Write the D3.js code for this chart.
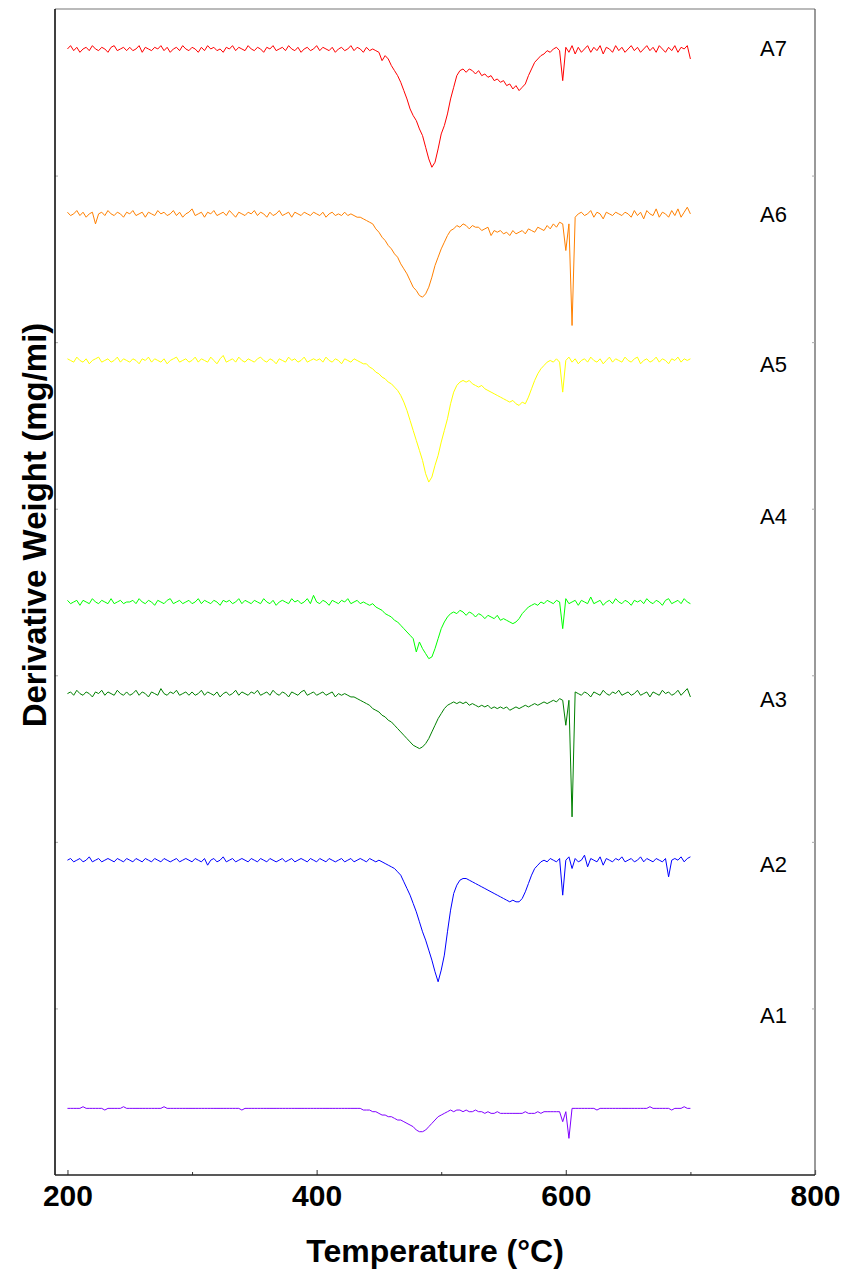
<!DOCTYPE html>
<html><head><meta charset="utf-8">
<script src="https://cdn.jsdelivr.net/npm/d3@7"></script>
<style>body{margin:0;background:#fff}svg{display:block}</style>
</head><body>
<svg id="chart" width="846" height="1270"></svg>
<script>
// ---- DATA ----
// Temperature grid (°C): 200 .. 700 every 2.5 °C (201 samples)
const tStart = 200, tStep = 2.5, tCount = 201;
const xTicksMajor = [200, 400, 600, 800];
const xTicksMinor = [300, 500, 700];
const yTicks = [100, 200, 300, 400, 500, 600];
const sampleNames = ["A7", "A6", "A5", "A4", "A3", "A2", "A1"];
const sampleColors = ["#ff0000", "#ff8000", "#ffff00", "#00ff00", "#008000", "#0000ff", "#8000ff"];
// vertical offset (baseline level) of each stacked DTG trace, in plot units
const sampleOffsets = [676, 577, 489, 344, 289, 189, 40];
// label levels (plot units)
const labelLevels = [672, 572, 482, 391, 281, 182, 91];

// Derivative weight, relative to each trace's baseline (plot units)
const A7 = [
0,2,-1,1,-2,0,1,-1,2,0,-1,1,0,-2,1,2,-1,0,1,-1,
1,-1,0,2,-2,1,0,-1,1,0,2,-1,1,-2,0,1,-1,2,0,-1,
1,0,-2,1,-1,2,0,1,-1,0,-2,1,0,2,-1,1,0,-1,2,0,
-1,1,0,-2,1,0,2,-1,0,1,-1,2,0,-1,1,-2,0,1,-1,0,
2,-1,1,0,-1,1,-2,0,1,-1,0,2,-1,1,0,-2,1,-1,0,-1,
-2,-7,-4,-6,-10,-13,-16,-20,-25,-30,-36,-40,-43,-48,-52,-59,-66,-71,-68,-60,
-51,-46,-39,-30,-23,-16,-13,-12,-14,-12,-13,-15,-13,-16,-15,-17,-16,-19,-18,-20,
-19,-22,-21,-24,-22,-25,-23,-21,-16,-12,-8,-6,-4,-3,-1,-2,0,1,-1,-19,
1,-2,2,-3,1,-2,0,2,-2,1,-1,2,-3,1,0,-2,2,-1,1,-2,
0,2,-1,1,-2,0,2,-1,1,-2,2,0,-2,1,-1,2,-2,1,0,2,
-6];
const A6 = [
1,-1,0,2,-1,1,-2,0,1,-6,0,1,-1,2,0,-1,1,0,-2,1,
0,2,-1,0,1,-2,1,0,-1,2,0,1,-1,0,2,-1,1,-2,0,1,
3,-1,0,1,-2,1,0,2,-1,0,1,-1,2,0,-2,1,0,-1,1,0,
2,-1,1,0,-2,1,-1,0,2,-1,0,1,-2,1,0,-1,1,0,-1,1,
0,-1,1,-2,0,1,-1,0,-1,1,-1,0,-1,-2,-2,-3,-4,-5,-6,-9,
-11,-14,-16,-19,-21,-24,-26,-30,-33,-36,-40,-44,-46,-49,-50,-48,-44,-38,-31,-26,
-21,-17,-13,-10,-9,-7,-8,-6,-7,-9,-7,-8,-8,-10,-9,-8,-13,-10,-11,-10,
-12,-11,-13,-10,-12,-11,-10,-12,-9,-10,-11,-8,-9,-10,-7,-9,-6,-8,-5,-6,
-22,-6,-67,-2,0,1,-1,0,2,-2,1,0,-3,1,0,-1,1,0,-1,1,
0,-2,2,-1,1,-3,2,0,-1,3,-2,1,0,-2,2,-1,3,-2,1,4,
0];
const A5 = [
1,0,-1,2,0,-1,1,-2,0,1,2,-1,0,1,-1,0,2,-1,1,0,
-1,1,0,-2,1,0,2,-1,1,0,-1,1,-2,0,1,2,-1,0,1,-1,
0,2,-1,1,0,-1,2,0,-2,1,3,-1,0,1,-1,2,0,-1,1,0,
-1,1,2,0,-1,1,0,-2,1,0,-1,2,0,1,-1,0,2,-1,0,1,
0,1,-1,2,0,-1,1,0,-2,1,0,-1,1,0,-1,-2,-2,-4,-5,-7,
-8,-10,-11,-13,-14,-16,-18,-21,-25,-30,-36,-42,-48,-54,-60,-68,-73,-70,-63,-57,
-49,-42,-35,-26,-19,-15,-13,-12,-13,-12,-14,-15,-16,-15,-17,-18,-19,-20,-21,-22,
-23,-24,-25,-24,-26,-27,-25,-26,-22,-17,-12,-8,-5,-3,-1,0,-1,1,-1,-19,
0,2,-1,1,-2,0,1,-1,2,0,-1,1,-2,0,2,-1,1,0,-1,2,
0,-1,1,2,-2,0,1,-1,0,2,-1,1,0,-2,1,0,2,-1,1,0,
1];
const A4 = [
1,-1,0,1,-2,1,0,-1,2,0,-1,1,0,-1,2,-1,0,1,-1,0,
0,1,-1,2,0,-1,1,0,-2,1,0,-1,1,2,-1,0,1,-1,0,1,
-1,0,2,-1,1,0,-1,1,0,-2,1,0,1,-1,0,2,-1,1,0,-1,
1,0,-1,2,0,-1,1,-2,0,1,0,-1,2,0,1,-1,0,2,-1,4,
0,-1,1,0,-2,1,0,-1,1,0,2,-1,0,1,-1,0,-1,-2,-1,-3,
-4,-5,-7,-8,-9,-11,-12,-14,-16,-18,-20,-22,-30,-24,-28,-31,-34,-33,-28,-22,
-16,-12,-9,-7,-6,-7,-5,-6,-8,-6,-7,-9,-7,-8,-10,-8,-9,-10,-8,-11,
-10,-11,-12,-13,-12,-10,-7,-5,-3,-2,-1,-2,0,-1,1,0,-1,1,0,-16,
2,-1,0,1,-2,1,0,-1,3,-1,0,1,-2,0,1,-1,2,0,-1,1,
0,-2,1,0,1,-1,2,0,-1,1,0,-2,1,2,-1,0,1,-1,2,0,
-1];
const A3 = [
0,1,-1,2,0,-1,1,0,-2,1,0,2,-1,1,0,-1,2,0,-1,1,
-1,0,2,-1,1,0,-2,1,0,-1,3,0,-1,1,0,2,-1,0,1,-1,
1,-1,0,2,-1,1,0,-1,1,-2,0,1,-1,0,2,-1,1,0,-1,1,
0,2,-1,0,1,-1,2,0,-1,1,0,-2,1,0,-1,1,2,-1,0,1,
-1,0,1,-1,0,1,-2,0,-1,0,-1,-2,-2,-3,-4,-5,-6,-7,-9,-10,
-11,-13,-14,-16,-17,-19,-21,-23,-25,-27,-29,-31,-32,-33,-32,-30,-27,-23,-19,-15,
-12,-9,-7,-6,-5,-6,-5,-6,-5,-7,-6,-7,-8,-7,-8,-7,-9,-8,-9,-8,
-9,-8,-10,-9,-8,-9,-8,-7,-8,-7,-6,-7,-6,-5,-6,-5,-4,-5,-3,-4,
-19,-4,-74,1,0,-1,1,0,-2,1,0,-1,2,0,-1,1,0,2,-1,0,
1,-1,0,2,-1,0,1,-2,1,0,-1,2,0,1,-1,0,2,-1,1,3,
-2];
const A2 = [
0,1,-1,0,1,-1,0,2,-1,0,1,-1,0,1,0,-1,1,0,-1,1,
0,-1,1,0,-1,1,0,-1,1,0,-1,1,0,-1,0,1,-1,0,1,0,
-1,1,0,-1,1,-3,0,1,-1,0,2,-1,0,1,-1,0,1,0,-1,1,
0,-1,1,0,-1,1,0,-1,0,1,-1,0,1,-1,0,1,0,-1,1,0,
-1,1,0,-1,1,0,-1,0,1,-1,0,1,-1,0,1,0,-1,1,0,-1,
0,-1,-2,-3,-4,-5,-7,-9,-13,-17,-21,-26,-31,-37,-43,-48,-54,-60,-67,-73,
-66,-57,-43,-30,-20,-15,-12,-11,-11,-12,-13,-14,-15,-16,-17,-18,-19,-20,-21,-22,
-23,-24,-25,-24,-25,-25,-23,-19,-14,-9,-5,-3,-1,0,-1,1,0,-1,1,-21,
0,2,-5,1,-1,0,3,-4,1,0,-1,2,-3,1,0,-1,1,0,2,-1,
0,1,-1,0,2,-1,1,0,-1,1,0,-1,1,-10,0,1,0,2,-1,1,
2];
const A1 = [
0,0,0,0,0,1,0,0,0,0,0,0,-1,0,0,0,0,0,1,0,
0,0,0,0,0,0,0,0,0,0,0,1,0,0,0,0,0,0,0,0,
0,0,0,0,0,0,0,0,0,0,0,0,0,0,0,0,-1,0,0,0,
0,0,0,0,0,0,0,0,0,0,0,0,0,0,0,0,0,0,0,0,
0,0,0,0,0,0,0,0,0,0,0,0,0,0,0,-1,-1,-1,-2,-2,
-3,-4,-4,-5,-5,-6,-7,-7,-8,-9,-10,-11,-13,-14,-14,-13,-11,-9,-7,-5,
-4,-3,-2,-1,-2,-1,-1,-2,-1,-2,-2,-1,-2,-2,-3,-2,-3,-3,-2,-3,
-3,-3,-3,-3,-3,-3,-3,-2,-3,-3,-3,-2,-3,-2,-2,-2,-2,-2,-2,-8,
-2,-18,0,0,0,0,0,0,0,0,-1,0,0,0,0,0,0,0,0,0,
0,0,0,0,0,0,0,1,0,0,0,0,0,0,-1,0,0,0,1,0,
0];
const sampleValues = [A7, A6, A5, A4, A3, A2, A1];

// ---- LAYOUT ----
const svg = d3.select("#chart");
const L = 55, R = 815, T = 9, B = 1175;
const x = d3.scaleLinear().domain([190, 800]).range([L, R]);
const y = d3.scaleLinear().domain([0, 700]).range([B, T]);
const temps = d3.range(tCount).map(i => tStart + i * tStep);

// traces
const line = d3.line().x(d => x(d[0])).y(d => y(d[1]));
sampleValues.forEach((vals, k) => {
  const pts = vals.map((v, i) => [temps[i], sampleOffsets[k] + v]);
  svg.append("path").datum(pts)
    .attr("fill", "none").attr("stroke", sampleColors[k])
    .attr("stroke-width", 1).attr("stroke-linejoin", "round")
    .attr("d", line);
});

// frame
svg.append("line").attr("x1", L).attr("x2", R).attr("y1", T).attr("y2", T).attr("stroke", "#777").attr("stroke-width", 1.2);
svg.append("line").attr("x1", R).attr("x2", R).attr("y1", T).attr("y2", B).attr("stroke", "#555").attr("stroke-width", 1.2);

// y ticks (inner, no labels)
const yl = svg.append("g").attr("transform", `translate(${L},0)`)
  .call(d3.axisLeft(y).tickValues(yTicks).tickSize(-3).tickFormat(""));
yl.select(".domain").remove();
yl.selectAll(".tick line").attr("stroke", "#aaa");
const yr = svg.append("g").attr("transform", `translate(${R},0)`)
  .call(d3.axisRight(y).tickValues(yTicks).tickSize(-3).tickFormat(""));
yr.select(".domain").remove();
yr.selectAll(".tick line").attr("stroke", "#aaa");

// x axis
const xa = svg.append("g").attr("transform", `translate(0,${B})`)
  .call(d3.axisBottom(x).tickValues(xTicksMajor).tickSize(-5).tickPadding(10).tickFormat(d3.format("d")));
xa.select(".domain").remove();
xa.selectAll(".tick line").attr("stroke", "#555").attr("stroke-width", 1.2);
xa.selectAll(".tick text").attr("font-family", "Liberation Sans, Arial, sans-serif")
  .attr("font-weight", "bold").attr("font-size", 30).attr("fill", "#000");
const xm = svg.append("g").attr("transform", `translate(0,${B})`)
  .call(d3.axisBottom(x).tickValues(xTicksMinor).tickSize(-3).tickFormat(""));
xm.select(".domain").remove();
xm.selectAll(".tick line").attr("stroke", "#333");

svg.append("line").attr("x1", L).attr("x2", L).attr("y1", T).attr("y2", B).attr("stroke", "#000").attr("stroke-width", 1.5);
svg.append("line").attr("x1", L).attr("x2", R).attr("y1", B).attr("y2", B).attr("stroke", "#222").attr("stroke-width", 1.5);

// titles
svg.append("text").attr("x", (L + R) / 2).attr("y", 1262).attr("text-anchor", "middle")
  .attr("font-family", "Liberation Sans, Arial, sans-serif").attr("font-weight", "bold").attr("font-size", 32)
  .text("Temperature (°C)");
svg.append("text").attr("transform", "translate(46,525) rotate(-90)").attr("text-anchor", "middle")
  .attr("font-family", "Liberation Sans, Arial, sans-serif").attr("font-weight", "bold").attr("font-size", 33)
  .text("Derivative Weight (mg/mi)");

// sample labels
svg.selectAll("text.lab").data(sampleNames).join("text").attr("class", "lab")
  .attr("x", 760).attr("y", (d, i) => y(labelLevels[i]))
  .attr("font-family", "Liberation Sans, Arial, sans-serif").attr("font-size", 22).attr("fill", "#000")
  .text(d => d);
</script>
</body></html>
